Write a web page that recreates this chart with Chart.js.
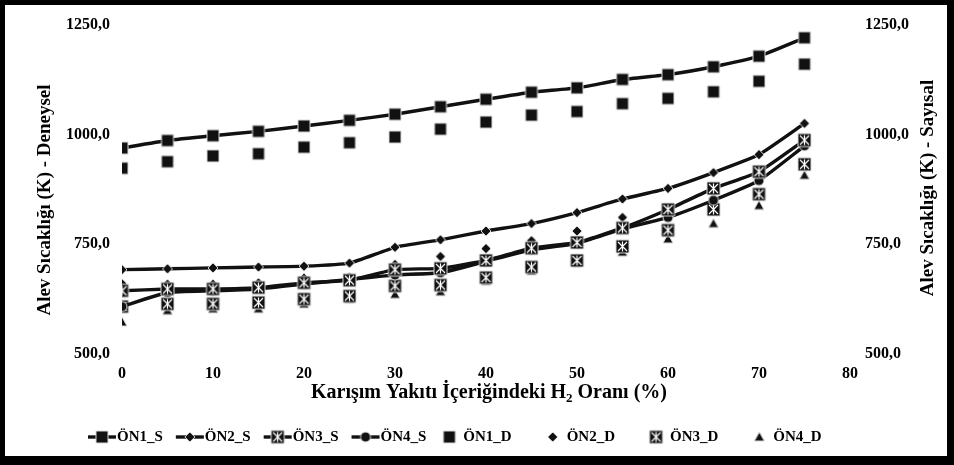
<!DOCTYPE html>
<html>
<head>
<meta charset="utf-8">
<script src="https://cdn.jsdelivr.net/npm/chart.js@4.4.0/dist/chart.umd.min.js"></script>
<style>
  html, body { margin: 0; padding: 0; background: #fff; }
  #wrap { position: relative; width: 954px; height: 465px; }
  #frame {
    position: absolute; left: 0; top: 0; width: 954px; height: 465px;
    box-sizing: border-box; border: 5px solid #000;
    border-right-width: 7px; border-bottom-width: 9px; pointer-events: none;
  }
</style>
</head>
<body>
<div id="wrap">
  <canvas id="myChart" width="954" height="465"></canvas>
  <div id="frame"></div>
</div>
<script>
const h2Ratio = [0, 5, 10, 15, 20, 25, 30, 35, 40, 45, 50, 55, 60, 65, 70, 75];

const on1S = [969, 986, 997, 1007, 1019, 1032, 1046, 1063, 1080, 1096, 1106, 1125, 1136, 1154, 1178, 1220];
const on2S = [692, 694, 696, 698, 700, 707, 743, 760, 780, 797, 822, 853, 877, 913, 954, 1025];
const on3S = [644, 648, 648, 651, 662, 668, 692, 695, 713, 741, 754, 787, 829, 877, 915, 987];
const on4S = [608, 640, 644, 648, 659, 670, 680, 685, 711, 737, 752, 785, 811, 850, 895, 974];
const on1D = [923, 938, 951, 956, 971, 981, 994, 1012, 1028, 1044, 1052, 1070, 1082, 1097, 1121, 1160];
const on2D = [660, 659, 659, 662, 673, 675, 704, 722, 740, 758, 780, 811, 832, 868, 906, 976];
const on3D = [608, 614, 614, 617, 625, 632, 655, 657, 674, 698, 713, 745, 782, 829, 864, 932];
const on4D = [573, 599, 603, 603, 614, 625, 636, 642, 666, 689, 707, 732, 762, 797, 838, 907];

const xTicks = [0, 10, 20, 30, 40, 50, 60, 70, 80];
const yTicks = [500, 750, 1000, 1250];

const leftTitle = "Alev Sıcaklığı (K) - Deneysel";
const rightTitle = "Alev Sıcaklığı (K) - Sayısal";

const serif = "'Liberation Serif', 'Times New Roman', serif";

// marker images (black fill, light halo like the original)
function makeMarker(kind, size) {
  const c = document.createElement("canvas");
  c.width = size + 4;
  c.height = size + 4;
  const g = c.getContext("2d");
  const m = c.width / 2;
  const h = size / 2;
  g.fillStyle = "#111";
  g.strokeStyle = "#d8d8d8";
  g.lineWidth = 1;
  g.beginPath();
  if (kind === "square" || kind === "xsquare") {
    g.rect(m - h, m - h, size, size);
  } else if (kind === "diamond") {
    g.moveTo(m, m - h);
    g.lineTo(m + h, m);
    g.lineTo(m, m + h);
    g.lineTo(m - h, m);
    g.closePath();
  } else if (kind === "circle") {
    g.arc(m, m, h, 0, Math.PI * 2);
  } else if (kind === "triangle") {
    g.moveTo(m, m - h);
    g.lineTo(m + h, m + h * 0.8);
    g.lineTo(m - h, m + h * 0.8);
    g.closePath();
  }
  g.fill();
  g.stroke();
  if (kind === "xsquare") {
    g.strokeStyle = "#fff";
    g.lineWidth = 1.2;
    g.beginPath();
    g.moveTo(m - h + 2, m - h + 2);
    g.lineTo(m + h - 2, m + h - 2);
    g.moveTo(m + h - 2, m - h + 2);
    g.lineTo(m - h + 2, m + h - 2);
    g.moveTo(m, m - h + 1.5);
    g.lineTo(m, m + h - 1.5);
    g.stroke();
  }
  return c;
}

const mkSquare = makeMarker("square", 12);
const mkDiamond = makeMarker("diamond", 10);
const mkX = makeMarker("xsquare", 13);
const mkCircle = makeMarker("circle", 10);
const mkTri = makeMarker("triangle", 10);

function pts(vals) {
  return vals.map((v, i) => ({ x: h2Ratio[i], y: v }));
}

function series(label, vals, marker, withLine, axis) {
  return {
    label: label,
    data: pts(vals),
    yAxisID: axis,
    showLine: withLine,
    borderColor: "#111",
    backgroundColor: "#111",
    borderWidth: 3.4,
    tension: 0.15,
    pointStyle: marker,
    pointRadius: 6,
    pointHoverRadius: 6,
  };
}

const datasets = [
  series("ÖN1_S", on1S, mkSquare, true, "y2"),
  series("ÖN2_S", on2S, mkDiamond, true, "y2"),
  series("ÖN3_S", on3S, mkX, true, "y2"),
  series("ÖN4_S", on4S, mkCircle, true, "y2"),
  series("ÖN1_D", on1D, mkSquare, false, "y"),
  series("ÖN2_D", on2D, mkDiamond, false, "y"),
  series("ÖN3_D", on3D, mkX, false, "y"),
  series("ÖN4_D", on4D, mkTri, false, "y"),
];

const fmt = (v) => v.toFixed(1).replace(".", ",");

const extraText = {
  id: "extraText",
  afterDraw(chart) {
    const ctx = chart.ctx;
    const area = chart.chartArea;
    ctx.save();
    ctx.fillStyle = "#000";

    // vertical titles, both read bottom to top
    ctx.font = "bold 19px " + serif;
    ctx.textAlign = "center";
    ctx.textBaseline = "middle";
    [[leftTitle, area.left - 77, 200], [rightTitle, area.right + 78, 188]].forEach(([t, x, y]) => {
      ctx.save();
      ctx.translate(x, y);
      ctx.rotate(-Math.PI / 2);
      ctx.fillText(t, 0, 0);
      ctx.restore();
    });

    // x title with subscript 2
    const parts = ["Karışım Yakıtı İçeriğindeki H", "2", " Oranı (%)"];
    const big = "bold 20px " + serif;
    const small = "bold 13px " + serif;
    ctx.textAlign = "left";
    ctx.textBaseline = "alphabetic";
    ctx.font = big;
    const w0 = ctx.measureText(parts[0]).width;
    const w2 = ctx.measureText(parts[2]).width;
    ctx.font = small;
    const w1 = ctx.measureText(parts[1]).width;
    let tx = (area.left + area.right) / 2 + 3 - (w0 + w1 + w2) / 2;
    const ty = 398;
    ctx.font = big;
    ctx.fillText(parts[0], tx, ty);
    tx += w0;
    ctx.font = small;
    ctx.fillText(parts[1], tx, ty + 4);
    tx += w1;
    ctx.font = big;
    ctx.fillText(parts[2], tx, ty);

    // legend
    const ly = 437;
    let lx = 88;
    ctx.font = "bold 15px " + serif;
    ctx.textBaseline = "middle";
    chart.data.datasets.forEach((ds) => {
      const img = ds.pointStyle;
      if (ds.showLine) {
        ctx.strokeStyle = "#111";
        ctx.lineWidth = 3.4;
        ctx.beginPath();
        ctx.moveTo(lx, ly);
        ctx.lineTo(lx + 28, ly);
        ctx.stroke();
        ctx.drawImage(img, lx + 14 - img.width / 2, ly - img.height / 2);
        lx += 29;
      } else {
        lx += 10;
        ctx.drawImage(img, lx - img.width / 2, ly - img.height / 2);
        lx += 14;
      }
      ctx.fillText(ds.label, lx, ly);
      lx += ctx.measureText(ds.label).width + (ds.showLine ? 13 : 31);
    });
    ctx.restore();
  },
};

const yScale = (pos, w, pad) => ({
  type: "linear",
  position: pos,
  min: 500,
  max: 1250,
  afterBuildTicks: (s) => { s.ticks = yTicks.map((v) => ({ value: v })); },
  afterFit: (s) => { s.width = w; },
  grid: { display: false, drawTicks: false },
  border: { display: false },
  ticks: {
    padding: pad,
    color: "#000",
    font: { family: serif, size: 16, weight: "bold" },
    callback: (v) => fmt(v),
  },
});

new Chart(document.getElementById("myChart"), {
  type: "scatter",
  data: { datasets: datasets },
  options: {
    responsive: false,
    animation: false,
    layout: { padding: { top: 20, left: 0, right: 0, bottom: 0 } },
    plugins: { legend: { display: false }, tooltip: { enabled: false } },
    scales: {
      x: {
        type: "linear",
        min: 0,
        max: 80,
        afterBuildTicks: (s) => { s.ticks = xTicks.map((v) => ({ value: v })); },
        afterFit: (s) => { s.height = 111; },
        grid: { display: false, drawTicks: false },
        border: { display: false },
        ticks: {
          padding: 10,
          color: "#000",
          font: { family: serif, size: 16, weight: "bold" },
        },
      },
      y: yScale("left", 122, 12),
      y2: yScale("right", 104, 15),
    },
  },
  plugins: [extraText],
});
</script>
</body>
</html>
